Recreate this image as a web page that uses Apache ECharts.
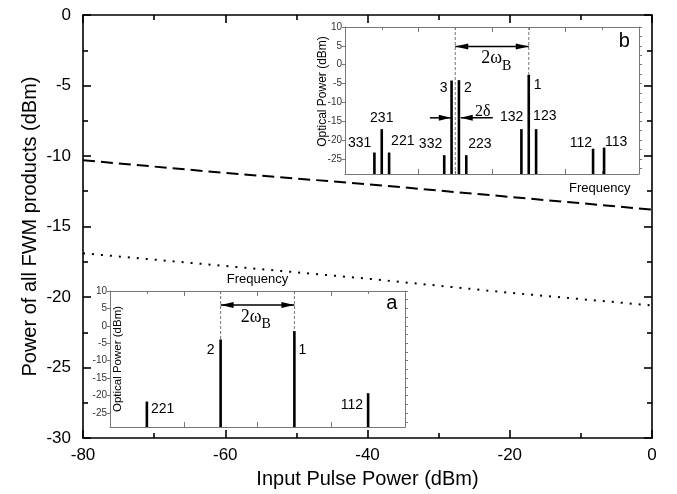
<!DOCTYPE html>
<html><head><meta charset="utf-8">
<script src="https://cdn.jsdelivr.net/npm/echarts@6/dist/echarts.min.js"></script>
<style>html,body{margin:0;padding:0;background:#fff}#c{width:677px;height:494px}</style>
</head><body><div id="c"></div>
<script>
// ---- main chart data ----
const inputPower = [-80, -60, -40, -20, 0];
const fwmDashed  = [-10.3, -11.2, -12.0, -12.9, -13.8];
const fwmDotted  = [-16.9, -17.8, -18.7, -19.7, -20.6];

// ---- inset (a) spectrum ----
const insetAFreq   = [1, 3, 5, 7];
const insetAPower  = [-21.7, -3.9, -1.5, -19.3];
const insetALabels = ['221', '2', '1', '112'];

// ---- inset (b) spectrum ----
const insetBFreq   = [0.8, 1.0, 1.2, 2.7, 2.9, 3.1, 3.3, 4.8, 5.0, 5.2, 6.75, 7.05];
const insetBPower  = [-23.3, -17.1, -23.3, -24.0, -4.2, -4.1, -24.0, -17.1, -2.7, -17.1, -22.3, -22.0];
const insetBLabels = ['331', '231', '221', '332', '3', '2', '223', '132', '1', '123', '112', '113'];

// ---- inset axis ticks ----
const insetYMin = -29, insetYMax = 10;
const insetYTickLabels = [-25, -20, -15, -10, -5, 0, 5, 10];
const insetYMinorTicks = [-27.5, -25, -22.5, -20, -17.5, -15, -12.5, -10, -7.5, -5, -2.5, 0, 2.5, 5, 7.5, 10];

// ---- label placement (style only) ----
const labelPlaceA = {
  '221': ['left', 4, 8], '2': ['right', -6, 11], '1': ['left', 4, 19], '112': ['right', -5, 12]
};
const labelPlaceB = {
  '331': ['right', -3, -9], '231': ['center', 0, -11], '221': ['left', 2, -11],
  '332': ['right', -2, -11], '3': ['right', -4, 8], '2': ['left', 5, 8],
  '223': ['left', 2, -11], '132': ['right', 2, -12], '1': ['left', 5, 10],
  '123': ['left', -3, -13], '112': ['right', -1, -6], '113': ['left', 1, -5]
};

// ---- annotations (positions in inset data units) ----
const annoA = { guides: [3, 5], arrowY: 6.0, omega: [4, 2.6, 4], letter: ['a', 7.64, 6.5], freq: [4, 13.3], delta: null };
const annoB = { guides: [3, 5], arrowY: 4.8, omega: [4, 1.7, 10], letter: ['b', 7.6, 6.1], freq: [6.93, -32.7],
  delta: { y: -14.1, left: [2.31, 2.88], right: [4.02, 3.15], text: [3.75, -12.5] } };

const SANS = '"Liberation Sans", Arial, Helvetica, sans-serif';
const SERIF = '"Liberation Serif", "Times New Roman", serif';

function barRender(labels, place) {
  return function (params, api) {
    const x = api.value(0), p = api.value(1);
    const top = api.coord([x, p]);
    const base = api.coord([x, insetYMin]);
    const name = labels[params.dataIndex];
    const pl = place[name];
    return { type: 'group', children: [
      { type: 'line', shape: { x1: top[0], y1: base[1], x2: top[0], y2: top[1] },
        style: { stroke: '#000', lineWidth: 2.6 } },
      { type: 'text', style: { text: name, x: top[0] + pl[1], y: top[1] + pl[2], align: pl[0], verticalAlign: 'middle',
        fill: '#000', fontSize: 14, fontFamily: SANS } }
    ]};
  };
}

function head(tip, dir, len, hw) {
  return { type: 'polygon', shape: { points: [tip, [tip[0] - dir * len, tip[1] - hw], [tip[0] - dir * len, tip[1] + hw]] },
    style: { fill: '#000' } };
}

function annoRender(cfg, freqs, powers) {
  return function (params, api) {
    const ch = [];
    cfg.guides.forEach(g => {
      const i = freqs.indexOf(g);
      const bottom = i >= 0 ? powers[i] : insetYMin;
      const p1 = api.coord([g, insetYMax]), p2 = api.coord([g, bottom]);
      ch.push({ type: 'line', shape: { x1: p1[0], y1: p1[1], x2: p2[0], y2: p2[1] },
        style: { stroke: '#777', lineWidth: 1, lineDash: [3, 2] } });
    });
    const a1 = api.coord([cfg.guides[0], cfg.arrowY]), a2 = api.coord([cfg.guides[1], cfg.arrowY]);
    ch.push({ type: 'line', shape: { x1: a1[0], y1: a1[1], x2: a2[0], y2: a2[1] }, style: { stroke: '#000', lineWidth: 1.5 } });
    ch.push(head(a1, -1, 13, 3));
    ch.push(head(a2, 1, 13, 3));
    const m = api.coord([cfg.omega[0], cfg.omega[1]]);
    ch.push({ type: 'text', style: { text: '2ω', x: m[0] + cfg.omega[2], y: m[1], align: 'right', verticalAlign: 'middle',
      fill: '#000', fontSize: 18, fontFamily: SERIF } });
    ch.push({ type: 'text', style: { text: 'B', x: m[0] + cfg.omega[2], y: m[1] + 8, align: 'left', verticalAlign: 'middle',
      fill: '#000', fontSize: 14, fontFamily: SERIF } });
    const L = api.coord([cfg.letter[1], cfg.letter[2]]);
    ch.push({ type: 'text', style: { text: cfg.letter[0], x: L[0], y: L[1], align: 'center', verticalAlign: 'middle',
      fill: '#000', fontSize: 20, fontFamily: SANS } });
    const F = api.coord([cfg.freq[0], cfg.freq[1]]);
    ch.push({ type: 'text', style: { text: 'Frequency', x: F[0], y: F[1], align: 'center', verticalAlign: 'middle',
      fill: '#000', fontSize: 13, fontFamily: SANS } });
    if (cfg.delta) {
      const d = cfg.delta;
      const l1 = api.coord([d.left[0], d.y]), l2 = api.coord([d.left[1], d.y]);
      const r1 = api.coord([d.right[0], d.y]), r2 = api.coord([d.right[1], d.y]);
      ch.push({ type: 'line', shape: { x1: l1[0], y1: l1[1], x2: l2[0], y2: l2[1] }, style: { stroke: '#000', lineWidth: 1.5 } });
      ch.push(head(l2, 1, 12, 3));
      ch.push({ type: 'line', shape: { x1: r1[0], y1: r1[1], x2: r2[0], y2: r2[1] }, style: { stroke: '#000', lineWidth: 1.5 } });
      ch.push(head(r2, -1, 12, 3));
      const T = api.coord(d.text);
      ch.push({ type: 'text', style: { text: '2δ', x: T[0], y: T[1], align: 'center', verticalAlign: 'middle',
        fill: '#000', fontSize: 16, fontFamily: SERIF } });
    }
    return { type: 'group', children: ch };
  };
}

const black = { color: '#000', width: 1.6 };
function mainX(pos, showLabel, extra) {
  return Object.assign({
    type: 'value', gridIndex: 0, position: pos, min: -80, max: 0, interval: 20,
    axisLine: { show: true, onZero: false, lineStyle: black },
    axisTick: { show: true, inside: true, length: 8, lineStyle: black },
    minorTick: { show: true, splitNumber: 2, length: 5, lineStyle: black },
    splitLine: { show: false }, minorSplitLine: { show: false },
    axisLabel: { show: showLabel, color: '#000', fontSize: 17, margin: 9, fontFamily: SANS }
  }, extra || {});
}
function mainY(pos, showLabel, extra) {
  return Object.assign({
    type: 'value', gridIndex: 0, position: pos, min: -30, max: 0, interval: 5,
    axisLine: { show: true, onZero: false, lineStyle: black },
    axisTick: { show: true, inside: true, length: 8, lineStyle: black },
    minorTick: { show: true, splitNumber: 2, length: 5, lineStyle: black },
    splitLine: { show: false }, minorSplitLine: { show: false },
    axisLabel: { show: showLabel, color: '#000', fontSize: 17, margin: 12, fontFamily: SANS }
  }, extra || {});
}
const gray = { color: '#777', width: 1 };
function insetX(g, pos) {
  return {
    type: 'value', gridIndex: g, position: pos, min: 0, max: 8, interval: 2,
    axisLine: { show: true, onZero: false, lineStyle: gray },
    axisTick: { show: true, inside: true, length: 5, lineStyle: gray },
    minorTick: { show: true, splitNumber: 2, length: 3, lineStyle: gray },
    splitLine: { show: false }, axisLabel: { show: false }
  };
}
function insetYLeft(g, gap, fs, pad) {
  return {
    type: 'value', gridIndex: g, position: 'left', min: insetYMin, max: insetYMax,
    axisLine: { show: true, onZero: false, lineStyle: gray },
    axisTick: { show: true, inside: false, length: 3, lineStyle: gray, customValues: insetYTickLabels },
    axisLabel: { show: true, color: '#333', fontSize: 10, margin: 3, fontFamily: SANS, customValues: insetYTickLabels },
    splitLine: { show: false },
    name: 'Optical Power (dBm)', nameLocation: 'middle', nameGap: gap, nameMoveOverlap: false,
    nameTextStyle: { color: '#000', fontSize: fs, fontFamily: SANS, padding: pad }
  };
}
function insetYRight(g) {
  return {
    type: 'value', gridIndex: g, position: 'right', min: insetYMin, max: insetYMax,
    axisLine: { show: true, onZero: false, lineStyle: gray },
    axisTick: { show: true, inside: false, length: 3, lineStyle: gray, customValues: insetYMinorTicks },
    axisLabel: { show: false }, splitLine: { show: false }
  };
}

const chart = echarts.init(document.getElementById('c'), null, { renderer: 'canvas' });
chart.setOption({
  animation: false,
  backgroundColor: '#fff',
  grid: [
    { left: 83, top: 15, width: 569, height: 424 },
    { left: 110, top: 291, width: 295, height: 136, show: true, backgroundColor: '#fff', borderWidth: 0 },
    { left: 345, top: 27, width: 294, height: 147, show: true, backgroundColor: '#fff', borderWidth: 0 }
  ],
  xAxis: [
    mainX('bottom', true, { name: 'Input Pulse Power (dBm)', nameLocation: 'middle', nameGap: 31, nameMoveOverlap: false,
      nameTextStyle: { color: '#000', fontSize: 20, fontFamily: SANS } }),
    mainX('top', false),
    insetX(1, 'bottom'), insetX(1, 'top'),
    insetX(2, 'bottom'), insetX(2, 'top')
  ],
  yAxis: [
    mainY('left', true, { name: 'Power of all FWM products (dBm)', nameLocation: 'middle', nameGap: 43, nameMoveOverlap: false,
      nameTextStyle: { color: '#000', fontSize: 20, fontFamily: SANS } }),
    mainY('right', false),
    insetYLeft(1, -14, 11.5, [0, 0, 0, 0]), insetYRight(1),
    insetYLeft(2, 16, 12, [0, 0, 0, 18]), insetYRight(2)
  ],
  series: [
    { type: 'line', xAxisIndex: 0, yAxisIndex: 0, symbol: 'none', z: 3,
      data: inputPower.map((x, i) => [x, fwmDashed[i]]),
      lineStyle: { color: '#000', width: 2, type: [12, 6] } },
    { type: 'line', xAxisIndex: 0, yAxisIndex: 0, symbol: 'none', z: 3,
      data: inputPower.map((x, i) => [x, fwmDotted[i]]),
      lineStyle: { color: '#000', width: 2, type: [2, 7] } },
    { type: 'custom', xAxisIndex: 2, yAxisIndex: 2, z: 5,
      data: [[4, 0]], renderItem: annoRender(annoA, insetAFreq, insetAPower) },
    { type: 'custom', xAxisIndex: 2, yAxisIndex: 2, z: 6,
      data: insetAFreq.map((f, i) => [f, insetAPower[i]]), renderItem: barRender(insetALabels, labelPlaceA) },
    { type: 'custom', xAxisIndex: 4, yAxisIndex: 4, z: 5,
      data: [[4, 0]], renderItem: annoRender(annoB, insetBFreq, insetBPower) },
    { type: 'custom', xAxisIndex: 4, yAxisIndex: 4, z: 6,
      data: insetBFreq.map((f, i) => [f, insetBPower[i]]), renderItem: barRender(insetBLabels, labelPlaceB) }
  ]
});
</script></body></html>
